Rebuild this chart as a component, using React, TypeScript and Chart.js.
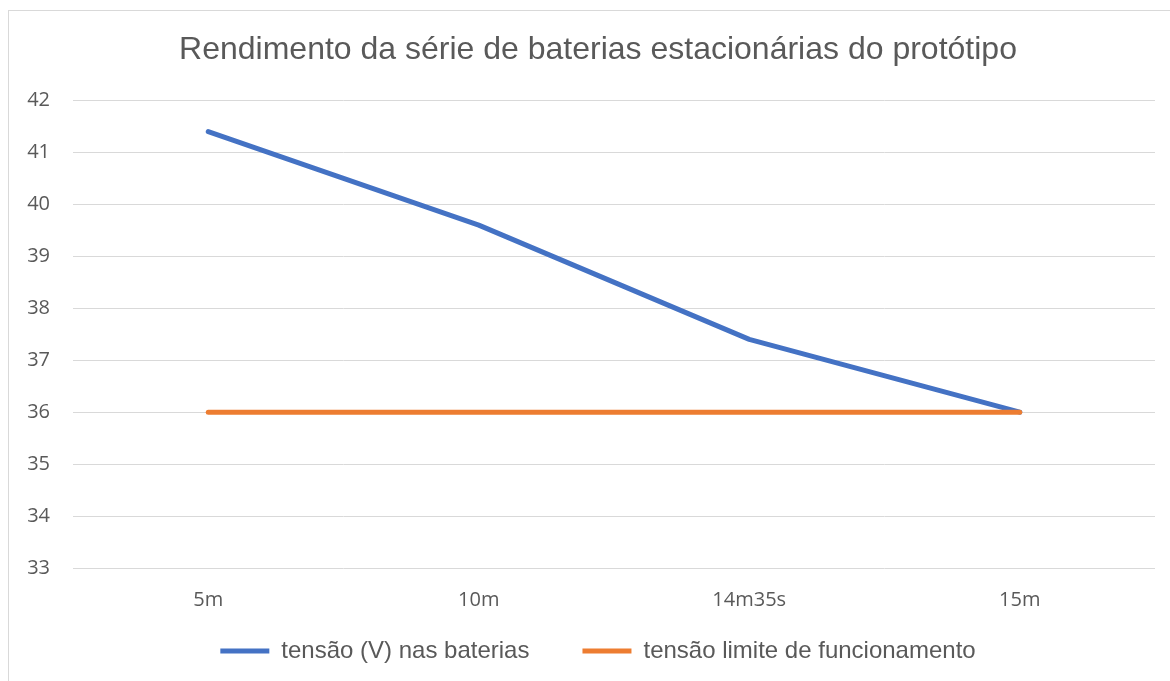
import React, { useEffect, useRef } from "react";
import { Chart, registerables } from "chart.js";

Chart.register(...registerables);

const titleText = "Rendimento da série de baterias estacionárias do protótipo";
const categories = ["5m", "10m", "14m35s", "15m"];
const batteryVoltage = [41.4, 39.6, 37.4, 36.0];
const limitVoltage = [36, 36, 36, 36];
const seriesNames = ["tensão (V) nas baterias", "tensão limite de funcionamento"];
const seriesColors = ["#4472C4", "#ED7D31"];
const yMin = 33;
const yMax = 42;
const yStep = 1;

// lifts the legend row closer to the axis labels while keeping the wide gap between items
const legendLift = {
  id: "legendLift",
  afterLayout(chart: any) {
    const l = chart.legend;
    if (l) {
      l.top -= 24;
      l.bottom -= 24;
    }
  },
};

export default function App() {
  const ref = useRef<HTMLCanvasElement>(null);

  useEffect(() => {
    const chart = new Chart(ref.current as HTMLCanvasElement, {
      type: "line",
      data: {
        labels: categories,
        datasets: [
          {
            label: seriesNames[0],
            data: batteryVoltage,
            borderColor: seriesColors[0],
            backgroundColor: seriesColors[0],
            borderWidth: 5,
            borderCapStyle: "round",
            borderJoinStyle: "round",
            pointRadius: 0,
            pointHoverRadius: 0,
            tension: 0,
            order: 1,
          },
          {
            label: seriesNames[1],
            data: limitVoltage,
            borderColor: seriesColors[1],
            backgroundColor: seriesColors[1],
            borderWidth: 5,
            borderCapStyle: "round",
            borderJoinStyle: "round",
            pointRadius: 0,
            pointHoverRadius: 0,
            tension: 0,
            order: 0,
          },
        ],
      },
      plugins: [legendLift],
      options: {
        animation: false,
        responsive: false,
        devicePixelRatio: 1,
        layout: { padding: 0 },
        plugins: {
          tooltip: { enabled: false },
          title: {
            display: true,
            text: titleText,
            color: "#595959",
            font: { family: "'Liberation Sans', Arial, sans-serif", size: 32, weight: "normal" },
            padding: { top: 20, bottom: 31 },
          },
          legend: {
            display: true,
            position: "bottom",
            labels: {
              sort: (a: any, b: any) => a.datasetIndex - b.datasetIndex,
              usePointStyle: true,
              pointStyle: "line",
              pointStyleWidth: 49,
              padding: 53,
              color: "#595959",
              font: { family: "'Liberation Sans', Arial, sans-serif", size: 24 },
            },
          },
        },
        scales: {
          x: {
            offset: true,
            grid: { display: false },
            border: { display: false },
            ticks: {
              color: "#595959",
              font: { family: "'Open Sans', sans-serif", size: 20 },
              padding: 12,
              maxRotation: 0,
            },
            afterFit: (s: any) => {
              s.height = 42;
            },
          },
          y: {
            min: yMin,
            max: yMax,
            grid: { color: "#d9d9d9", lineWidth: 1, drawTicks: false },
            border: { display: false },
            ticks: {
              stepSize: yStep,
              color: "#595959",
              font: { family: "'Open Sans', sans-serif", size: 20 },
              padding: 23,
            },
            afterFit: (s: any) => {
              s.width = 64;
            },
          },
          y2: {
            position: "right",
            display: true,
            grid: { display: false, drawTicks: false },
            border: { display: false },
            ticks: { display: false },
            afterFit: (s: any) => {
              s.width = 32;
            },
          },
        },
      },
    });
    return () => chart.destroy();
  }, []);

  return (
    <div
      style={{
        position: "fixed",
        left: 8,
        top: 10,
        width: 1178,
        height: 720,
        border: "1px solid #d9d9d9",
        background: "#ffffff",
      }}
    >
      <canvas ref={ref} width={1178} height={686} style={{ display: "block" }} />
    </div>
  );
}
